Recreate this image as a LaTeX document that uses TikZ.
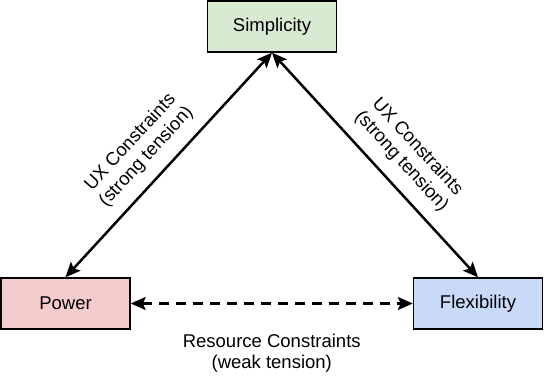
\documentclass[tikz,border=0pt]{standalone}
\usepackage{fontspec}
\setmainfont{Liberation Sans}
\usepackage{tikz}
\usetikzlibrary{positioning,arrows.meta}
\usepackage{xcolor}
\definecolor{simpfill}{HTML}{D9EAD3}
\definecolor{powfill}{HTML}{F4CCCC}
\definecolor{flexfill}{HTML}{C9DAF8}

\begin{document}
\begin{tikzpicture}[x=1pt,y=1pt,>={Stealth[length=15pt,width=13pt,inset=3pt]},
  box/.style={draw,line width=1.4pt,minimum width=129pt,minimum height=51pt,inner sep=0pt,font=\fontsize{18.5}{21.5}\selectfont},
  lbl/.style={font=\fontsize{18.5}{21.5}\selectfont,align=center,inner sep=2pt}]
\useasboundingbox (0,0) rectangle (544,379);
\node[box,fill=simpfill] (simp) at (272,352.5) {Simplicity};
\node[box,fill=powfill] (pow) at (65.5,75.5) {Power};
\node[box,fill=flexfill] (flex) at (478,75.5) {Flexibility};
\draw[<->,line width=2.5pt] (pow.north) -- (simp.south) node[lbl,pos=0.47,sloped,above=10pt]{UX Constraints\\(strong tension)};
\draw[<->,line width=2.5pt] (simp.south) -- (flex.north) node[lbl,pos=0.55,sloped,above=10pt]{UX Constraints\\(strong tension)};
\draw[<->,line width=2.5pt,dash pattern=on 10pt off 7pt] (pow.east) -- (flex.west) node[lbl,midway,below=27pt]{Resource Constraints\\(weak tension)};
\end{tikzpicture}
\end{document}
